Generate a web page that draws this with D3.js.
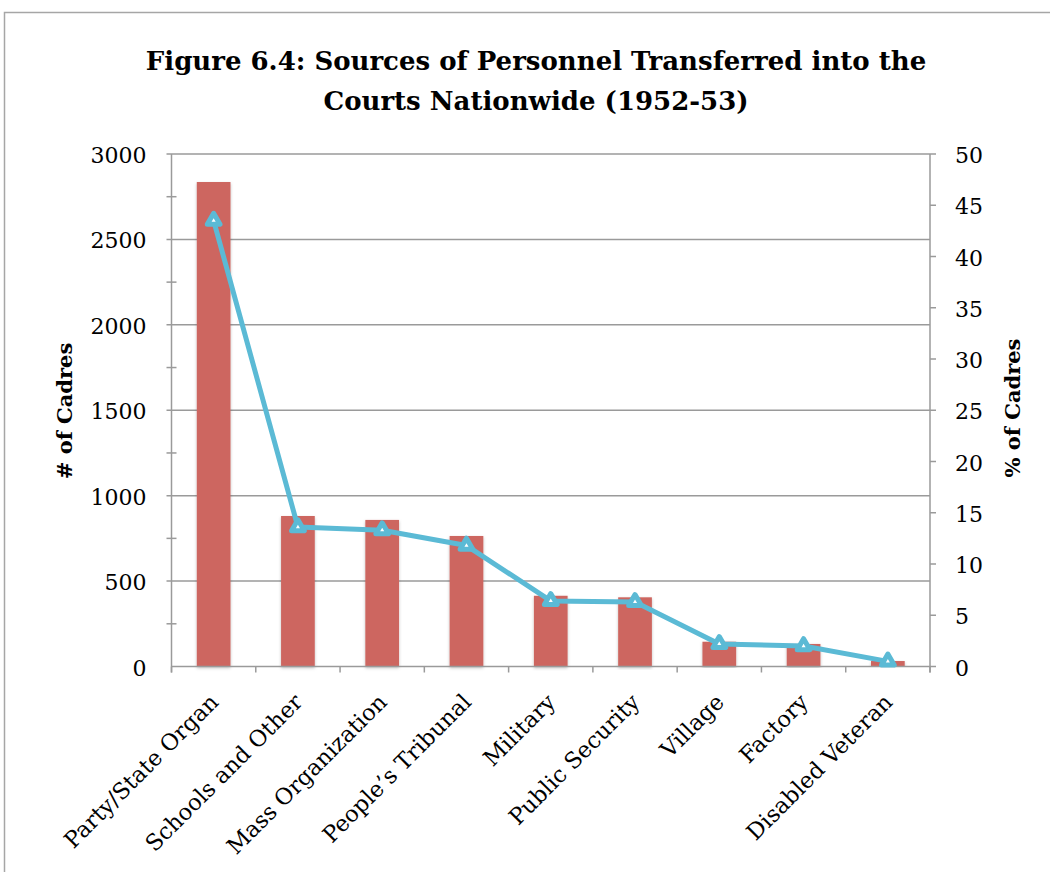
<!DOCTYPE html>
<html>
<head>
<meta charset="utf-8">
<script src="https://cdn.jsdelivr.net/npm/d3@7"></script>
<style>
  html, body { margin: 0; padding: 0; background: #fff; }
  svg { display: block; }
  text { font-family: "DejaVu Serif", "Liberation Serif", serif; fill: #000; }
</style>
</head>
<body>
<svg id="chart" width="1050" height="872"></svg>
<script>
// Sources of personnel transferred into the courts, 1952-53
const categories = ["Party/State Organ", "Schools and Other", "Mass Organization", "People\u2019s Tribunal",
                    "Military", "Public Security", "Village", "Factory", "Disabled Veteran"];
const cadreCounts = [2836, 881, 858, 764, 414, 405, 145, 132, 32];
const cadrePercent = [43.5, 13.6, 13.3, 11.8, 6.4, 6.3, 2.2, 2.0, 0.5];
const leftTicks = [0, 500, 1000, 1500, 2000, 2500, 3000];
const rightTicks = [0, 5, 10, 15, 20, 25, 30, 35, 40, 45, 50];
const titleLines = ["Figure 6.4: Sources of Personnel Transferred into the", "Courts Nationwide (1952-53)"];

const svg = d3.select("#chart");
const plot = { left: 171.5, right: 930, top: 154, bottom: 666.5 };

// outer frame
svg.append("rect")
  .attr("x", 4.5).attr("y", 12.5).attr("width", 1060).attr("height", 880)
  .attr("fill", "none").attr("stroke", "#a6a6a6").attr("stroke-width", 1.5);

// title
svg.append("g").selectAll("text").data(titleLines).enter().append("text")
  .attr("x", 536).attr("y", (d, i) => 70 + i * 40)
  .attr("text-anchor", "middle")
  .style("font-size", "26px").style("font-weight", "bold")
  .text(d => d);

const x = d3.scaleBand().domain(categories).range([plot.left, plot.right]).paddingInner(0.6).paddingOuter(0.3);
const xBand = d3.scaleBand().domain(categories).range([plot.left, plot.right]);
const yL = d3.scaleLinear().domain([0, 3000]).range([plot.bottom, plot.top]);
const yR = d3.scaleLinear().domain([0, 50]).range([plot.bottom, plot.top]);

const axisColor = "#9a9a9a";

// gridlines
svg.append("g").selectAll("line").data(leftTicks.filter(d => d > 0)).enter().append("line")
  .attr("x1", plot.left - 5).attr("x2", plot.right)
  .attr("y1", d => yL(d)).attr("y2", d => yL(d))
  .attr("stroke", axisColor).attr("stroke-width", 1.5);

// left axis with minor ticks
const minor = d3.range(250, 3000, 500);
svg.append("g").selectAll("line").data(minor).enter().append("line")
  .attr("x1", plot.left - 5).attr("x2", plot.left + 5)
  .attr("y1", d => yL(d)).attr("y2", d => yL(d))
  .attr("stroke", axisColor).attr("stroke-width", 1.5);
svg.append("line").attr("x1", plot.left).attr("x2", plot.left)
  .attr("y1", plot.top).attr("y2", plot.bottom + 6)
  .attr("stroke", axisColor).attr("stroke-width", 1.5);
svg.append("g").selectAll("text").data(leftTicks).enter().append("text")
  .attr("x", plot.left - 25).attr("y", d => yL(d) + 9)
  .attr("text-anchor", "end").style("font-size", "22px")
  .text(d => d);

// right axis
svg.append("line").attr("x1", plot.right).attr("x2", plot.right)
  .attr("y1", plot.top).attr("y2", plot.bottom + 6)
  .attr("stroke", axisColor).attr("stroke-width", 1.5);
svg.append("g").selectAll("line").data(rightTicks).enter().append("line")
  .attr("x1", plot.right).attr("x2", plot.right + 6)
  .attr("y1", d => yR(d)).attr("y2", d => yR(d))
  .attr("stroke", axisColor).attr("stroke-width", 1.5);
svg.append("g").selectAll("text").data(rightTicks).enter().append("text")
  .attr("x", plot.right + 25).attr("y", d => yR(d) + 9)
  .attr("text-anchor", "start").style("font-size", "22px")
  .text(d => d);

// axis titles
svg.append("text")
  .attr("transform", `translate(72,411) rotate(-90)`)
  .attr("text-anchor", "middle").style("font-size", "21px").style("font-weight", "bold")
  .text("# of Cadres");
svg.append("text")
  .attr("transform", `translate(1020,408) rotate(-90)`)
  .attr("text-anchor", "middle").style("font-size", "21px").style("font-weight", "bold")
  .text("% of Cadres");

// soft shadow under bars
const defs = svg.append("defs");
const f = defs.append("filter").attr("id", "shadow").attr("x", "-20%").attr("y", "-5%").attr("width", "140%").attr("height", "110%");
f.append("feDropShadow").attr("dx", 0).attr("dy", 1.5).attr("stdDeviation", 1.5)
  .attr("flood-color", "#000").attr("flood-opacity", 0.25);

// bars
svg.append("g").selectAll("rect").data(categories).enter().append("rect")
  .attr("x", d => x(d))
  .attr("width", x.bandwidth())
  .attr("y", (d, i) => yL(cadreCounts[i]))
  .attr("height", (d, i) => plot.bottom - yL(cadreCounts[i]))
  .attr("fill", "#cd6660")
  .attr("filter", "url(#shadow)");

// x axis
svg.append("line").attr("x1", plot.left).attr("x2", plot.right)
  .attr("y1", plot.bottom).attr("y2", plot.bottom)
  .attr("stroke", axisColor).attr("stroke-width", 1.5);
const bounds = categories.map(d => xBand(d)).concat([plot.right]);
svg.append("g").selectAll("line").data(bounds).enter().append("line")
  .attr("x1", d => d).attr("x2", d => d)
  .attr("y1", plot.bottom).attr("y2", plot.bottom + 6)
  .attr("stroke", axisColor).attr("stroke-width", 1.5);

// category labels
svg.append("g").selectAll("text").data(categories).enter().append("text")
  .attr("transform", d => `translate(${xBand(d) + xBand.bandwidth() / 2 + 6},${plot.bottom + 37}) rotate(-45)`)
  .attr("text-anchor", "end").style("font-size", "22.5px")
  .text(d => d);

// percentage line
const cx = d => xBand(d) + xBand.bandwidth() / 2;
const line = d3.line().x((d, i) => cx(categories[i])).y(d => yR(d));
svg.append("path").datum(cadrePercent)
  .attr("d", line)
  .attr("fill", "none").attr("stroke", "#5bbad5").attr("stroke-width", 5)
  .attr("stroke-linejoin", "round");

const tri = d3.symbol().type(d3.symbolTriangle).size(70);
svg.append("g").selectAll("path").data(cadrePercent).enter().append("path")
  .attr("d", tri)
  .attr("transform", (d, i) => `translate(${cx(categories[i])},${yR(d)})`)
  .attr("fill", "#ffffff").attr("stroke", "#5bbad5").attr("stroke-width", 5)
  .attr("stroke-linejoin", "round");
</script>
</body>
</html>
